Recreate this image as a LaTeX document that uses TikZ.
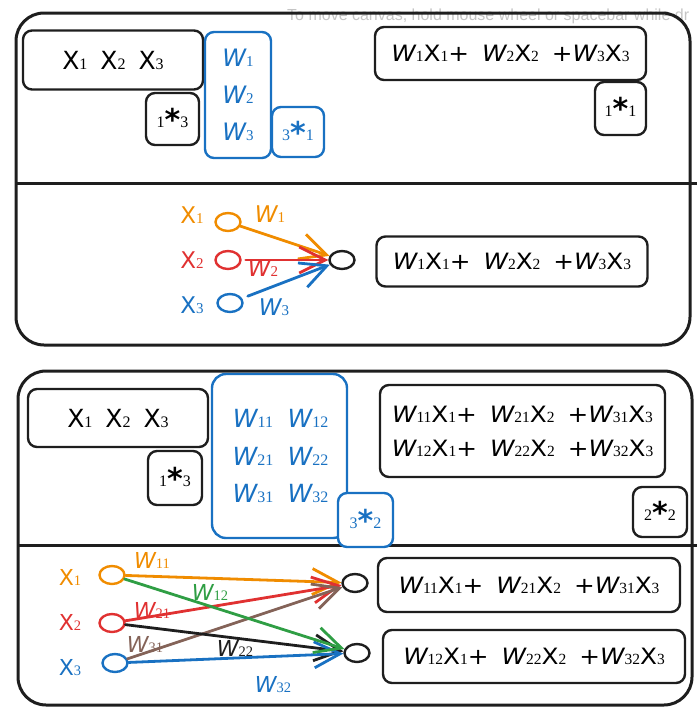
\documentclass[tikz,border=0pt]{standalone}
\usepackage{fontspec}
\setmainfont{Liberation Serif}
\newfontfamily\hand{DejaVu Sans}
\newfontfamily\handw{DejaVu Sans}[FakeStretch=1.1]
\newfontfamily\uifont{Liberation Sans}
\usetikzlibrary{arrows.meta,shapes.geometric}
\definecolor{cblack}{HTML}{1E1E1E}
\definecolor{corange}{HTML}{F08C00}
\definecolor{cred}{HTML}{E03131}
\definecolor{cblue}{HTML}{1971C2}
\definecolor{cgreen}{HTML}{2F9E44}
\definecolor{cbrown}{HTML}{846358}
\definecolor{cgray}{HTML}{C4C4C4}
\def\dgsz{15}
\newcommand\dg[1]{{\rmfamily\fontsize{\dgsz}{\dgsz}\selectfont #1}}
\newcommand\VX[1]{X\dg{#1}}
\newcommand\VW[1]{{\itshape W}\dg{#1}}
\newcommand\Ast[2]{\dg{#1}\raisebox{-3pt}{\hand\bfseries\fontsize{30}{30}\selectfont *}\dg{#2}}
\newcommand\gp{\hspace{13pt}}
\tikzset{
  t24/.style={font=\hand\fontsize{25}{28}\selectfont, execute at begin node={\def\dgsz{16}}},
  t21/.style={font=\hand\fontsize{22}{24}\selectfont, execute at begin node={\def\dgsz{14.5}}},
  tex/.style={font=\handw\fontsize{22.5}{24}\selectfont, execute at begin node={\def\dgsz{15.5}}},
  t22/.style={font=\hand\fontsize{23}{26}\selectfont, execute at begin node={\def\dgsz{15}}},
  bx/.style={draw=cblack, line width=2.4pt, rounded corners=9pt, inner sep=0pt},
  bbx/.style={bx, draw=cblue, text=cblue},
  panel/.style={draw=cblack, line width=3pt, rounded corners=28pt},
  sep/.style={draw=cblack, line width=3pt},
  ell/.style={ellipse, minimum width=25pt, minimum height=18pt, line width=2.4pt, inner sep=0pt},
  arr/.style={line width=2.8pt, line cap=round, -{Straight Barb[length=26pt,width=26pt,line width=2.8pt]}},
  lbl/.style={inner sep=0pt}
}
\begin{document}
\begin{tikzpicture}[x=1pt,y=-1pt]
\useasboundingbox (0,0) rectangle (699,715);
% UI hint text
\node[anchor=west, text=cgray, font=\uifont\fontsize{16}{16}\selectfont, inner sep=0pt] (hint) at (287,16) {To move canvas, hold mouse wheel or spacebar while dr};
% panels
\draw[panel] (16,13) rectangle (690,345);
\draw[sep] (16,183) -- (697,183);
\draw[panel] (18,371) rectangle (692,705);
\draw[sep] (18,545) -- (697,545);

% ---------- top panel, upper part
\node[bx, t24, minimum width=180pt, minimum height=59pt] (xb1) at (113,60) {\VX1\hspace{13pt}\VX2\hspace{13pt}\VX3};
\node[bx, t24, minimum width=53pt, minimum height=52pt] (s13a) at (172.5,119) {\Ast13};
\node[bbx, font=\hand\fontsize{24}{37}\selectfont, align=center, minimum width=66pt, minimum height=126pt] (wb1) at (238,95) {\VW1\\\VW2\\\VW3};
\node[bbx, t24, minimum width=52pt, minimum height=50pt] (s31) at (298,132) {\Ast31};
\node[bx, tex, minimum width=271pt, minimum height=53pt] (eb1) at (510.5,53.5) {\VW1\VX1+\gp\VW2\VX2\gp+\VW3\VX3};
\node[bx, t24, minimum width=51pt, minimum height=53pt] (s11) at (620.5,108.5) {\Ast11};

% ---------- top panel, network
\node[ell, draw=corange] (a1) at (228,222) {};
\node[ell, draw=cred] (a2) at (228,260) {};
\node[ell, draw=cblue] (a3) at (230,303) {};
\node[ell, draw=cblack] (ao) at (342,260) {};
\node[lbl, t22, text=corange] (lx1) at (192,215) {\VX1};
\node[lbl, t22, text=cred] (lx2) at (192,260) {\VX2};
\node[lbl, t22, text=cblue] (lx3) at (192,305) {\VX3};
\draw[arr, corange] (a1) -- (ao);
\draw[arr, cred, shorten <=4pt] (a2) -- (ao);
\draw[arr, cblue, shorten <=6pt] (a3) -- (ao);
\node[lbl, t22, text=corange] (lw1) at (270,214) {\VW1};
\node[lbl, t22, text=cred] (lw2) at (263,268) {\VW2};
\node[lbl, t22, text=cblue] (lw3) at (274,307) {\VW3};
\node[bx, tex, minimum width=271pt, minimum height=50pt] (eb2) at (512,261.5) {\VW1\VX1+\gp\VW2\VX2\gp+\VW3\VX3};

% ---------- bottom panel, upper part
\node[bx, t24, minimum width=180pt, minimum height=58pt] (xb2) at (118,418) {\VX1\hspace{13pt}\VX2\hspace{13pt}\VX3};
\node[bx, t24, minimum width=54pt, minimum height=54pt] (s13b) at (175,478) {\Ast13};
\node[bbx, minimum width=135pt, minimum height=164pt, rounded corners=14pt] (wb2) at (279.5,456) {};
\node[lbl, t24, text=cblue] (w11) at (253,418) {\VW{11}};
\node[lbl, t24, text=cblue] (w12) at (308,418) {\VW{12}};
\node[lbl, t24, text=cblue] (w21) at (253,456) {\VW{21}};
\node[lbl, t24, text=cblue] (w22) at (308,456) {\VW{22}};
\node[lbl, t24, text=cblue] (w31) at (253,493) {\VW{31}};
\node[lbl, t24, text=cblue] (w32) at (308,493) {\VW{32}};
\node[bbx, t24, minimum width=55pt, minimum height=54pt, fill=white] (s32) at (365.5,520) {\Ast32};
\node[bx, tex, align=center, minimum width=285pt, minimum height=92pt] (eb3) at (522.5,431) {\VW{11}\VX1+\gp\VW{21}\VX2\gp+\VW{31}\VX3\\[10pt]\VW{12}\VX1+\gp\VW{22}\VX2\gp+\VW{32}\VX3};
\node[bx, t24, minimum width=54pt, minimum height=50pt] (s22) at (660,512) {\Ast22};

% ---------- bottom panel, network
\node[ell, draw=corange] (b1) at (112,575) {};
\node[ell, draw=cred] (b2) at (112,623) {};
\node[ell, draw=cblue] (b3) at (115,663) {};
\node[ell, draw=cblack] (bo1) at (355,583) {};
\node[ell, draw=cblack] (bo2) at (357,653) {};
\node[lbl, t21, text=corange] (mx1) at (70,577) {\VX1};
\node[lbl, t21, text=cred] (mx2) at (70,622) {\VX2};
\node[lbl, t21, text=cblue] (mx3) at (70,668) {\VX3};
\draw[arr, corange] (b1) -- (bo1);
\draw[arr, cred] (b2) -- (bo1);
\draw[arr, cbrown] (b3) -- (bo1);
\draw[arr, cblack] (b2) -- (bo2);
\draw[arr, cblue] (b3) -- (bo2);
\draw[arr, cgreen] (b1) -- (bo2);
\node[lbl, t21, text=corange] (m11) at (152,560) {\VW{11}};
\node[lbl, t21, text=cred] (m21) at (152,610) {\VW{21}};
\node[lbl, t21, text=cbrown] (m31) at (145,645) {\VW{31}};
\node[lbl, t21, text=cgreen] (m12) at (210,592) {\VW{12}};
\node[lbl, t21, text=cblack] (m22) at (235,648) {\VW{22}};
\node[lbl, t21, text=cblue] (m32) at (273,685) {\VW{32}};
\node[bx, tex, minimum width=302pt, minimum height=54pt] (eb4) at (529,585) {\VW{11}\VX1+\gp\VW{21}\VX2\gp+\VW{31}\VX3};
\node[bx, tex, minimum width=302pt, minimum height=53pt] (eb5) at (534,656.5) {\VW{12}\VX1+\gp\VW{22}\VX2\gp+\VW{32}\VX3};
\end{tikzpicture}
\end{document}
